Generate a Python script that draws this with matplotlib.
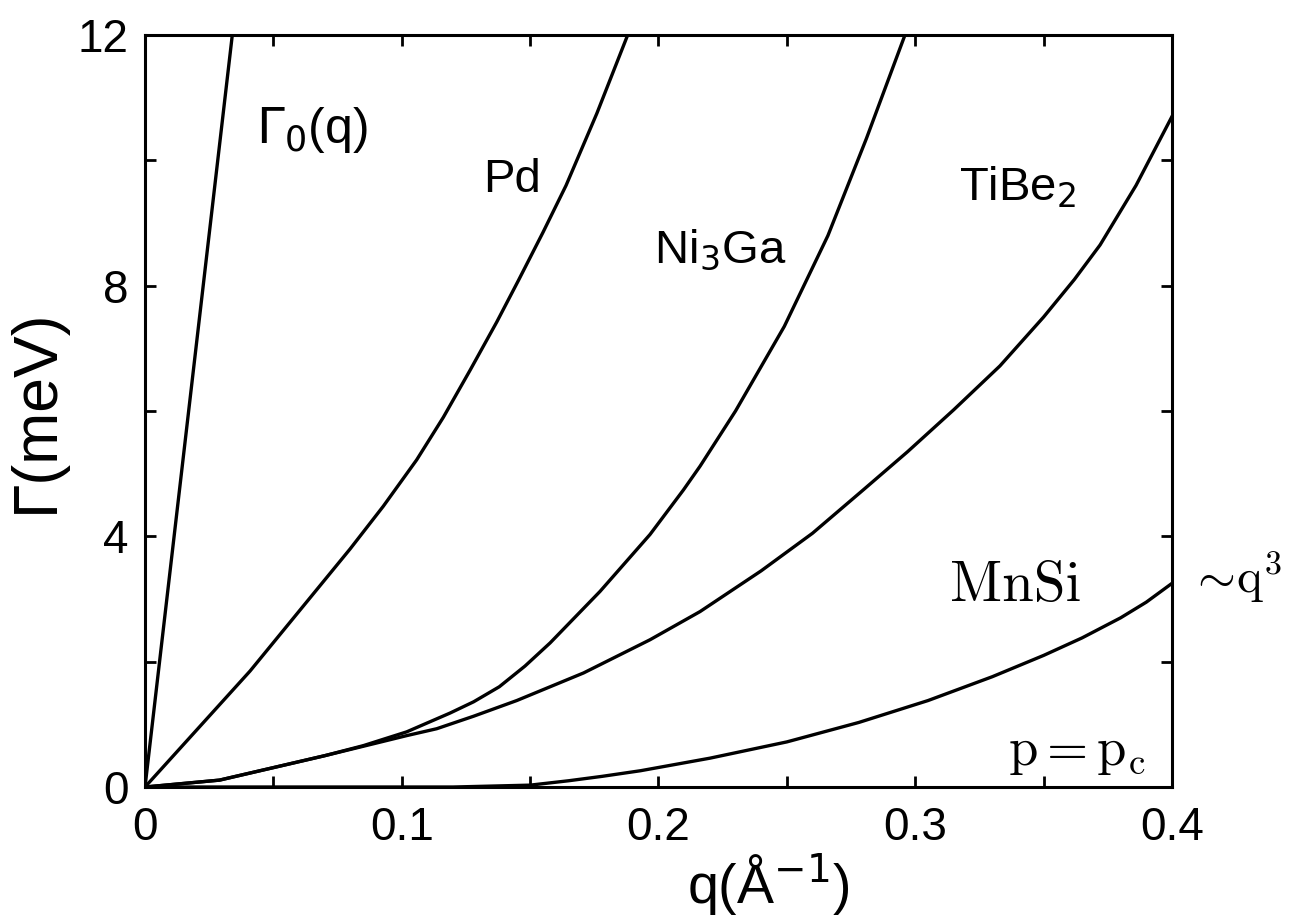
import matplotlib.pyplot as plt
from matplotlib.ticker import MultipleLocator

# curves, q in 1/A, Gamma in meV
q_gamma0 = [0.0, 0.034]
g_gamma0 = [0.0, 12.0]

q_pd = [0.0, 0.0409, 0.0539, 0.0669, 0.0799, 0.0928, 0.1058, 0.1162, 0.1266,
        0.137, 0.1454, 0.155, 0.164, 0.176, 0.188]
g_pd = [0.0, 1.85, 2.50, 3.15, 3.80, 4.48, 5.22, 5.90, 6.65,
        7.42, 8.08, 8.85, 9.60, 10.75, 12.0]

q_ni3ga = [0.0, 0.029, 0.049, 0.070, 0.085, 0.1019, 0.1188, 0.128, 0.138, 0.148,
           0.1578, 0.1772, 0.1967, 0.2097, 0.2162, 0.230, 0.249, 0.266, 0.281, 0.296]
g_ni3ga = [0.0, 0.11, 0.30, 0.50, 0.66, 0.88, 1.18, 1.36, 1.60, 1.93,
           2.30, 3.12, 4.03, 4.74, 5.12, 6.00, 7.35, 8.80, 10.35, 12.0]

q_tibe2 = [0.0, 0.029, 0.049, 0.070, 0.085, 0.1019, 0.1136, 0.128, 0.1448,
           0.1708, 0.1967, 0.2162, 0.240, 0.260, 0.280, 0.297, 0.315, 0.333,
           0.350, 0.362, 0.372, 0.386, 0.400]
g_tibe2 = [0.0, 0.11, 0.30, 0.50, 0.65, 0.82, 0.93, 1.13, 1.38,
           1.82, 2.35, 2.80, 3.45, 4.05, 4.75, 5.35, 6.02, 6.72,
           7.50, 8.10, 8.65, 9.60, 10.70]

q_mnsi = [0.0, 0.120, 0.150, 0.165, 0.178, 0.193, 0.220, 0.250, 0.278, 0.305,
          0.330, 0.350, 0.365, 0.380, 0.390, 0.400]
g_mnsi = [0.0, 0.0, 0.03, 0.10, 0.17, 0.26, 0.46, 0.72, 1.03, 1.38,
          1.76, 2.10, 2.38, 2.70, 2.95, 3.25]

plt.rcParams['font.family'] = ['Liberation Sans', 'DejaVu Sans']

fig = plt.figure(figsize=(12.97, 9.22), dpi=100)
ax = fig.add_axes([0.1118, 0.1464, 0.7918, 0.8156])

for q, g in [(q_gamma0, g_gamma0), (q_pd, g_pd), (q_ni3ga, g_ni3ga),
             (q_tibe2, g_tibe2), (q_mnsi, g_mnsi)]:
    ax.plot(q, g, color='black', lw=2.4, solid_joinstyle='round')

ax.set_xlim(0, 0.4)
ax.set_ylim(0, 12)
ax.xaxis.set_minor_locator(MultipleLocator(0.05))
ax.yaxis.set_major_locator(MultipleLocator(4))
ax.yaxis.set_minor_locator(MultipleLocator(2))
ax.set_xticks([0, 0.1, 0.2, 0.3, 0.4])
ax.set_xticklabels(['0', '0.1', '0.2', '0.3', '0.4'])
ax.tick_params(which='both', direction='in', length=8, width=2,
               top=True, right=True, labelsize=33)
ax.tick_params(axis='x', pad=14)
ax.tick_params(axis='y', pad=12)
for s in ax.spines.values():
    s.set_linewidth(2.2)

ax.set_ylabel('Γ(meV)', fontsize=45, labelpad=8)
ax.set_xlabel('q(Å$^{-1}$)', fontsize=40)
ax.xaxis.set_label_coords(0.607, -0.085)

ax.text(0.065, 10.48, r'$\Gamma_0$(q)', fontsize=36, ha='center', va='center')
ax.text(0.143, 9.69, 'Pd', fontsize=34, ha='center', va='center')
ax.text(0.224, 8.57, r'Ni$_3$Ga', fontsize=34, ha='center', va='center')
ax.text(0.340, 9.56, r'TiBe$_2$', fontsize=34, ha='center', va='center')
ax.text(0.339, 3.20, 'MnSi', fontsize=41, family='cmr10', ha='center', va='center')
ax.text(0.363, 0.56, r'$\mathrm{p = p_c}$', fontsize=38, math_fontfamily='cm',
        ha='center', va='center')
ax.text(0.4065, 3.35, r'$\sim\!\mathrm{q}^3$', fontsize=35, math_fontfamily='cm',
        ha='left', va='center', clip_on=False)

fig.savefig('out.png', dpi=100)
